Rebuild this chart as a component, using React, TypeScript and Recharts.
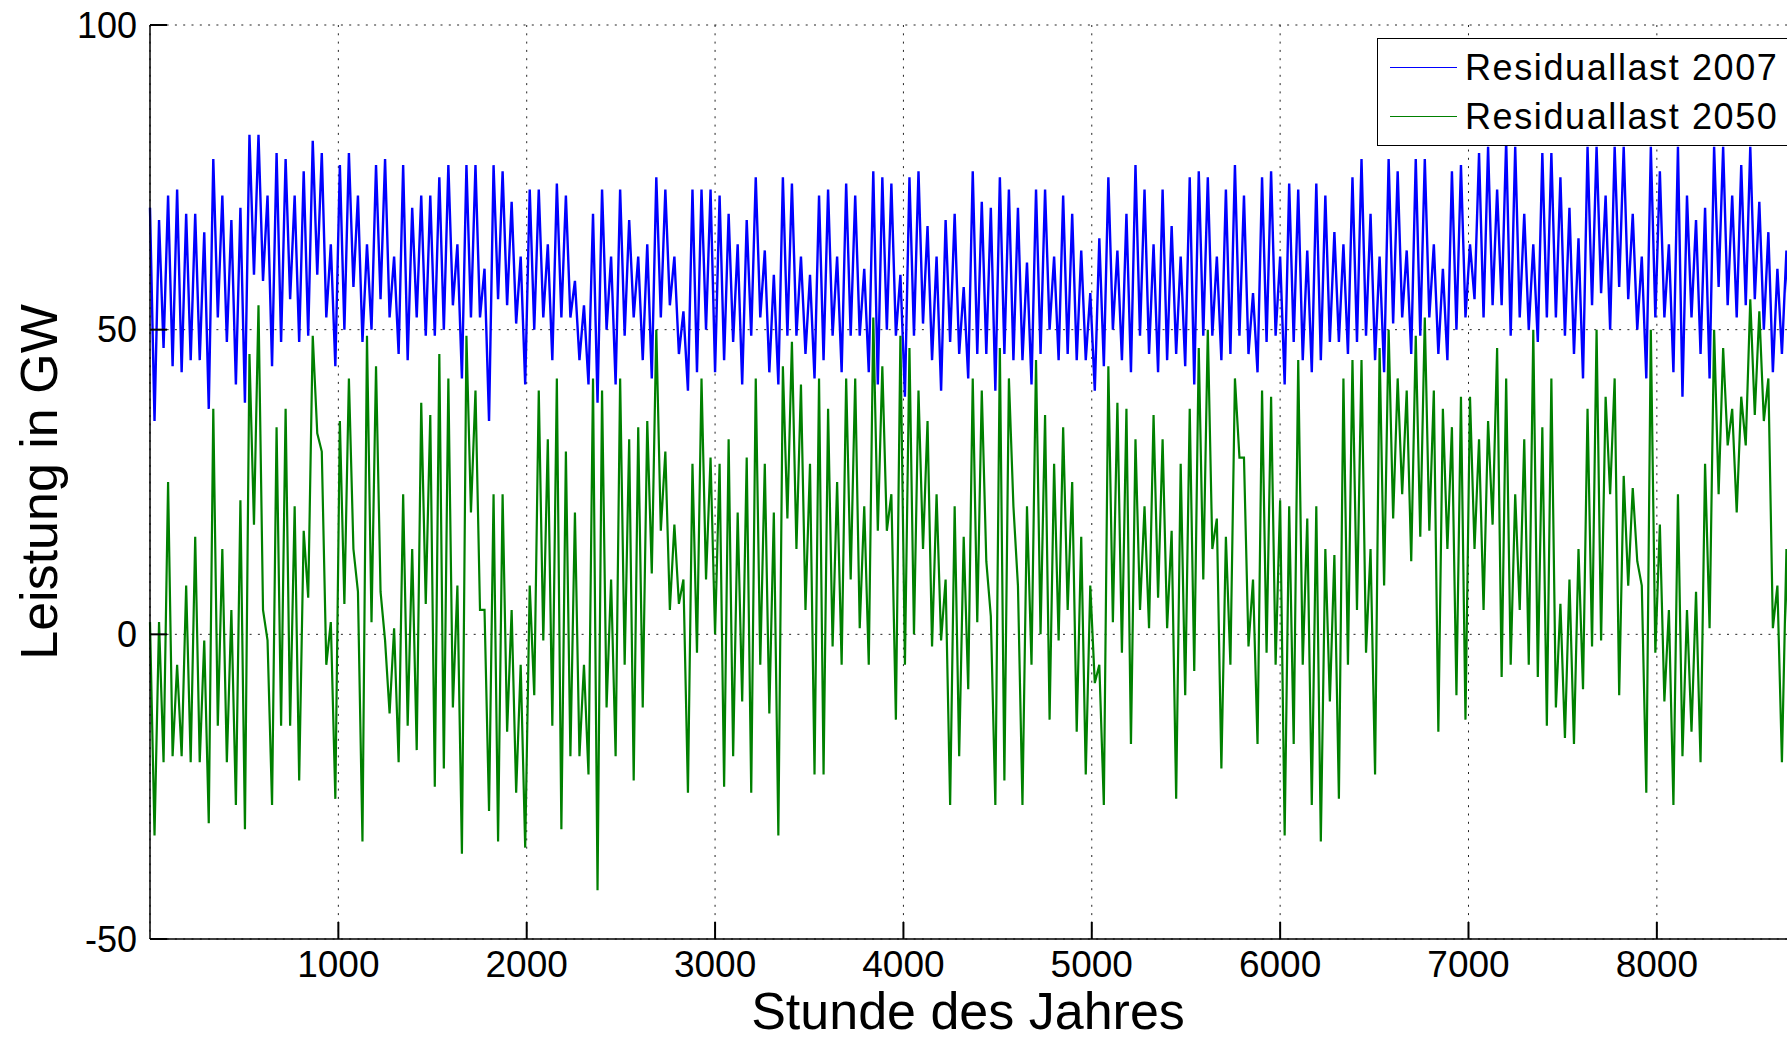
import { CartesianGrid, Label, Legend, Line, LineChart, XAxis, YAxis } from "recharts";

const stepHours = 48;

const blueHi = [
  70, 68, 72, 73, 69, 69, 66, 78, 72, 68,
  70, 82, 82, 72, 79, 78, 72, 76, 81, 79,
  64, 77, 79, 72, 64, 77, 78, 62, 77, 70,
  72, 72, 75, 77, 64, 77, 77, 60, 77, 76,
  71, 62, 73, 73, 64, 74, 72, 58, 54, 69,
  73, 62, 73, 68, 62, 64, 75, 73, 62, 53,
  73, 73, 73, 72, 69, 64, 68, 75, 63, 59,
  75, 74, 62, 59, 72, 73, 62, 74, 72, 60,
  76, 75, 74, 59, 75, 76, 67, 62, 68, 69,
  57, 76, 71, 70, 75, 73, 70, 61, 73, 73,
  62, 72, 69, 63, 56, 65, 75, 63, 69, 77,
  73, 64, 73, 67, 62, 75, 76, 75, 62, 73,
  77, 72, 56, 75, 76, 62, 74, 73, 63, 74,
  72, 66, 64, 75, 78, 69, 62, 78, 76, 63,
  78, 78, 64, 60, 76, 77, 64, 79, 80, 73,
  81, 80, 69, 64, 79, 79, 75, 70, 65, 80,
  80, 72, 80, 80, 69, 62, 80, 76, 64, 80,
  72, 68, 70, 80, 80, 72, 77, 80, 71, 66,
  60, 63, 67,
];

const blueLo = [
  35, 47, 44, 43, 45, 45, 37, 52, 48, 41,
  38, 59, 58, 44, 48, 55, 48, 49, 59, 52,
  44, 50, 57, 48, 50, 55, 52, 46, 45, 52,
  49, 49, 50, 54, 42, 52, 52, 35, 55, 54,
  51, 41, 50, 52, 45, 52, 52, 45, 41, 38,
  50, 41, 49, 52, 45, 42, 52, 54, 46, 40,
  43, 50, 43, 45, 48, 41, 49, 52, 43, 41,
  49, 49, 46, 42, 45, 49, 43, 49, 49, 43,
  41, 50, 49, 39, 49, 51, 45, 40, 48, 46,
  42, 46, 46, 40, 46, 45, 45, 41, 46, 50,
  45, 46, 45, 45, 40, 44, 50, 45, 43, 49,
  46, 43, 45, 46, 44, 41, 49, 49, 45, 46,
  49, 46, 43, 48, 49, 41, 48, 45, 43, 45,
  48, 48, 46, 48, 49, 45, 43, 51, 52, 46,
  49, 52, 46, 45, 50, 52, 55, 52, 54, 54,
  49, 52, 50, 48, 52, 52, 49, 46, 42, 54,
  56, 50, 57, 55, 50, 42, 52, 52, 43, 39,
  52, 46, 42, 57, 54, 52, 54, 55, 50, 43,
  46, 45, 49,
];

const greenHi = [
  2, 2, 25, -5, 8, 16, -1, 37, 14, 4,
  22, 46, 54, -1, 34, 37, 21, 17, 49, 30,
  2, 35, 42, 7, 49, 44, -1, 1, 23, 14,
  38, 36, 46, 42, 8, 49, 40, 4, 23, 23,
  4, -5, 8, 40, 32, 42, 30, 20, -5, 42,
  40, 9, 42, 32, 34, 35, 50, 30, 18, 9,
  28, 42, 29, 28, 32, 20, 29, 42, 28, 20,
  44, 48, 41, 28, 42, 37, 25, 42, 42, 21,
  52, 44, 23, 49, 47, 40, 35, 23, 9, 21,
  16, 42, 40, 3, 47, 42, 8, 21, 45, 36,
  28, 34, 25, 16, 8, -5, 44, 38, 37, 32,
  21, 36, 32, 17, 28, 37, 47, 50, 19, 16,
  42, 29, 9, 40, 39, 22, 21, 45, 19, 21,
  14, 13, 42, 45, 45, 14, 47, 50, 42, 40,
  49, 52, 40, 37, 34, 39, 39, 32, 35, 47,
  42, 23, 32, 50, 34, 42, 5, 9, 14, 37,
  50, 39, 42, 26, 24, 8, 50, 18, 4, 23,
  4, 7, 28, 50, 47, 37, 39, 55, 53, 42,
  8, 14, -1,
];

const greenLo = [
  -33, -21, -20, -20, -21, -21, -31, -15, -21, -28,
  -32, 18, 4, -28, -15, -15, -24, 6, 33, -5,
  -27, 5, 14, -34, 2, 7, -13, -21, -15, -19,
  5, -25, -22, -12, -36, 20, 4, -29, -34, -16,
  -26, -35, -10, -1, -15, -32, -20, -20, -23, -42,
  -12, -20, -5, -24, -12, 10, 17, 4, 5, -26,
  -3, 9, 0, -25, -20, -11, -26, -5, -13, -33,
  19, 14, 4, -23, -23, -2, -5, 9, 1, -5,
  17, 17, -14, -5, 0, 14, -2, -1, -28, -20,
  -9, 2, 12, -28, -24, 21, -28, -5, 0, -14,
  -1, 4, -16, -23, -8, -28, 2, -3, -18, 4,
  1, 6, 1, -27, -10, -6, 9, 14, -22, -5,
  29, -2, -18, -3, -5, -33, -18, -5, -28, -34,
  -11, -27, -5, 4, -3, -23, 8, 19, 23, 12,
  16, 17, -16, 14, -10, -14, 14, 4, 18, -7,
  -5, 4, -5, -7, -15, -12, -17, -18, -9, -2,
  -1, 23, -10, 8, 12, -26, -3, -11, -28, -20,
  -16, -21, 1, 23, 31, 20, 31, 36, 35, 1,
  -21, -19, -15,
];

const xTicks = [1000, 2000, 3000, 4000, 5000, 6000, 7000, 8000];
const yTicks = [-50, 0, 50, 100];

const data = blueHi.flatMap((hi, k) => [
  { hour: k * stepHours, r2007: hi, r2050: greenHi[k] },
  { hour: k * stepHours + stepHours / 2, r2007: blueLo[k], r2050: greenLo[k] },
]);

const font = "'Liberation Sans', Arial, Helvetica, sans-serif";
const tickLen = 17;

// MATLAB style: tick marks point into the plot
const BottomTick = (props: any) => {
  const { x, y, payload } = props;
  const axisY = Number(y) - 12;
  return (
    <g>
      <path d={`M${x},${axisY}V${axisY - tickLen}`} stroke="#000" strokeWidth={2} fill="none" />
      <text x={x} y={y} dy="0.71em" textAnchor="middle" fontFamily={font} fontSize={37} fill="#000">
        {payload.value}
      </text>
    </g>
  );
};

const TopTick = (props: any) => {
  const { x, y } = props;
  const axisY = Number(y);
  return <path d={`M${x},${axisY}V${axisY + tickLen}`} stroke="#000" strokeWidth={2} fill="none" />;
};

const LeftTick = (props: any) => {
  const { x, y, payload } = props;
  const axisX = Number(x) + 13;
  return (
    <g>
      <path d={`M${axisX},${y}H${axisX + tickLen}`} stroke="#000" strokeWidth={2} fill="none" />
      <text x={x} y={y} dy="0.355em" textAnchor="end" fontFamily={font} fontSize={36} fill="#000">
        {payload.value}
      </text>
    </g>
  );
};

const renderLegend = (props: any) => (
  <div
    style={{
      border: "1px solid #000",
      background: "#fff",
      width: 440,
      height: 108,
      boxSizing: "border-box",
      paddingTop: 4,
      fontFamily: font,
      fontSize: 36,
      color: "#000",
    }}
  >
    {(props.payload || []).map((entry: any) => (
      <div key={entry.value} style={{ display: "flex", alignItems: "center", height: 49 }}>
        <span
          style={{
            display: "inline-block",
            width: 67,
            borderTop: `1px solid ${entry.color}`,
            marginLeft: 12,
            marginRight: 8,
          }}
        />
        <span style={{ letterSpacing: 1.6, whiteSpace: "nowrap" }}>{entry.value}</span>
      </div>
    ))}
  </div>
);

const XTitle = (props: any) => {
  const vb = props.viewBox;
  return (
    <text
      x={vb.x + vb.width / 2 - 7}
      y={vb.y + 90}
      textAnchor="middle"
      fontFamily={font}
      fontSize={52}
      fill="#000"
    >
      Stunde des Jahres
    </text>
  );
};

const YTitle = (props: any) => {
  const vb = props.viewBox;
  const x = vb.x + 57;
  const y = vb.y + vb.height / 2;
  return (
    <text
      x={x}
      y={y}
      transform={`rotate(-90 ${x} ${y})`}
      textAnchor="middle"
      fontFamily={font}
      fontSize={52}
      fill="#000"
    >
      Leistung in GW
    </text>
  );
};

export default function App() {
  return (
    <div
      style={{
        position: "fixed",
        left: 0,
        top: 0,
        width: 1787,
        height: 1039,
        overflow: "hidden",
        background: "#fff",
      }}
    >
      <LineChart width={1810} height={1039} data={data} margin={{ top: 25, right: 10, bottom: 0, left: 0 }}>
        <CartesianGrid stroke="#222" strokeDasharray="2 6.3" />
        <XAxis
          dataKey="hour"
          type="number"
          domain={[0, 8760]}
          ticks={xTicks}
          interval={0}
          height={100}
          tickSize={0}
          tickMargin={12}
          axisLine={{ stroke: "#000", strokeWidth: 1.5 }}
          tickLine={false}
          tick={<BottomTick />}
        >
          <Label content={<XTitle />} />
        </XAxis>
        <XAxis
          xAxisId="top"
          orientation="top"
          dataKey="hour"
          type="number"
          domain={[0, 8760]}
          ticks={xTicks}
          interval={0}
          height={0}
          tickSize={0}
          tickMargin={0}
          tick={<TopTick />}
          axisLine={{ stroke: "#000", strokeWidth: 1.5 }}
          tickLine={false}
        />
        <YAxis
          type="number"
          domain={[-50, 100]}
          ticks={yTicks}
          interval={0}
          width={150}
          tickSize={0}
          tickMargin={13}
          axisLine={{ stroke: "#000", strokeWidth: 1.5 }}
          tickLine={false}
          tick={<LeftTick />}
        >
          <Label content={<YTitle />} />
        </YAxis>
        <Legend
          layout="vertical"
          align="center"
          verticalAlign="middle"
          content={renderLegend}
          wrapperStyle={{ left: 1377, top: 38, width: 440, height: 108 }}
        />
        <Line
          type="linear"
          dataKey="r2007"
          name="Residuallast 2007"
          stroke="#0000ff"
          strokeWidth={2.4}
          dot={false}
          isAnimationActive={false}
        />
        <Line
          type="linear"
          dataKey="r2050"
          name="Residuallast 2050"
          stroke="#008000"
          strokeWidth={2.2}
          dot={false}
          isAnimationActive={false}
        />
      </LineChart>
    </div>
  );
}
